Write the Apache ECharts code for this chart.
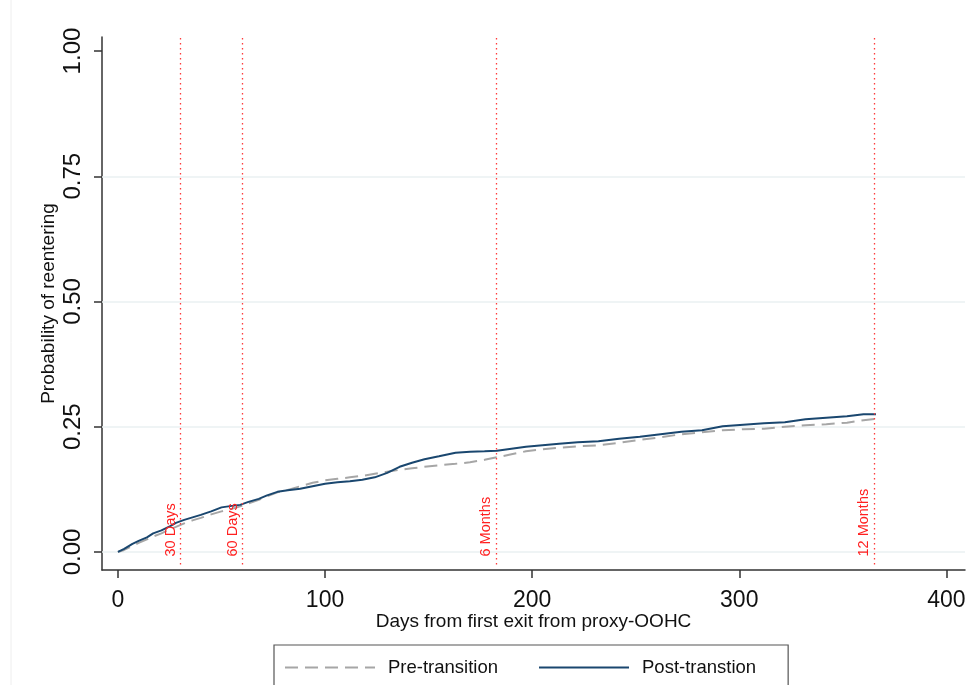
<!DOCTYPE html>
<html>
<head>
<meta charset="utf-8">
<script src="https://cdn.jsdelivr.net/npm/echarts@6/dist/echarts.min.js"></script>
<style>
    html, body { margin: 0; padding: 0; background: #fff; }
    #chart { width: 970px; height: 685px; }
</style>
</head>
<body>
<div id="chart"></div>
<script>
    // days from first exit
    var days = [0, 3, 7, 10, 14, 17, 21, 25, 28, 32, 36, 40, 45, 50, 55, 59, 63, 68, 72, 77, 82, 88, 94, 100,
        106, 112, 118, 124, 130, 136, 142, 148, 155, 163, 170, 177, 183, 190, 197, 205, 213, 222, 232, 242,
        252, 262, 272, 282, 292, 302, 312, 322, 332, 342, 352, 360, 366];
    var preTransition = [0, 0.004, 0.012, 0.018, 0.025, 0.031, 0.037, 0.045, 0.050, 0.057, 0.063, 0.068, 0.075,
        0.081, 0.086, 0.091, 0.097, 0.104, 0.111, 0.119, 0.124, 0.131, 0.138, 0.143, 0.146, 0.149, 0.152, 0.156,
        0.160, 0.164, 0.167, 0.170, 0.173, 0.176, 0.179, 0.184, 0.189, 0.195, 0.201, 0.205, 0.208, 0.211, 0.213,
        0.218, 0.224, 0.229, 0.235, 0.239, 0.243, 0.245, 0.246, 0.250, 0.253, 0.255, 0.258, 0.263, 0.266];
    var postTransition = [0, 0.006, 0.016, 0.022, 0.029, 0.037, 0.043, 0.051, 0.058, 0.064, 0.069, 0.074, 0.081,
        0.089, 0.092, 0.094, 0.100, 0.106, 0.113, 0.120, 0.123, 0.126, 0.131, 0.136, 0.139, 0.141, 0.144, 0.149,
        0.158, 0.170, 0.178, 0.185, 0.191, 0.198, 0.200, 0.201, 0.202, 0.206, 0.210, 0.213, 0.216, 0.219, 0.221,
        0.226, 0.230, 0.235, 0.240, 0.243, 0.251, 0.254, 0.257, 0.259, 0.265, 0.268, 0.271, 0.275, 0.275];
    var xTicks = [0, 100, 200, 300, 400];
    var yTicks = [0, 0.25, 0.5, 0.75, 1];
    var gridValues = [0, 0.25, 0.5, 0.75];
    var refDays = [30, 60, 182.5, 365];
    var refLabels = ['30 Days', '60 Days', '6 Months', '12 Months'];

    var font = '"Liberation Sans", Arial, sans-serif';
    var chart = echarts.init(document.getElementById('chart'));

    function pairs(ys) {
        return days.map(function (d, i) { return [d, ys[i]]; });
    }

    var refLines = refDays.map(function (d, i) {
        return [
            { coord: [d, -0.025], label: { formatter: refLabels[i] } },
            { coord: [d, 1.026] }
        ];
    });
    var gridLines = gridValues.map(function (v) { return { yAxis: v }; });

    chart.setOption({
        animation: false,
        textStyle: { fontFamily: font },
        grid: { left: 102, right: 5, top: 37, bottom: 115 },
        graphic: [{
            type: 'line', shape: { x1: 11, y1: 0, x2: 11, y2: 685 },
            style: { stroke: '#eeeeee', lineWidth: 1 }
        }],
        legend: {
            left: 274, top: 645,
            padding: [13, 32, 30, 10],
            itemGap: 40,
            itemWidth: 90, itemHeight: 14,
            itemStyle: { opacity: 0 },
            borderColor: '#555', borderWidth: 1.2, borderRadius: 0,
            textStyle: { fontSize: 18.5, color: '#111', padding: [0, 0, 0, 8] },
            data: ['Pre-transition', 'Post-transtion']
        },
        xAxis: {
            type: 'value', min: -7.7, max: 409,
            name: 'Days from first exit from proxy-OOHC',
            nameLocation: 'middle', nameGap: 42, nameMoveOverlap: false,
            nameTextStyle: { fontSize: 19, color: '#111' },
            axisLine: { onZero: false, lineStyle: { color: '#333', width: 1.5 } },
            axisTick: { length: 8, customValues: xTicks, lineStyle: { color: '#333', width: 1.5 } },
            axisLabel: { customValues: xTicks, fontSize: 23, color: '#111', margin: 19 },
            splitLine: { show: false }
        },
        yAxis: {
            type: 'value', min: -0.036, max: 1.028,
            name: 'Probability of reentering',
            nameLocation: 'middle', nameGap: 44, nameMoveOverlap: false,
            nameTextStyle: { fontSize: 19, color: '#111' },
            axisLine: { show: true, onZero: false, lineStyle: { color: '#333', width: 1.5 } },
            axisTick: { show: true, length: 8, customValues: yTicks, lineStyle: { color: '#333', width: 1.5 } },
            axisLabel: {
                customValues: yTicks, fontSize: 24, color: '#111', rotate: 90, margin: 17,
                formatter: function (v) { return v.toFixed(2); }
            },
            splitLine: { show: false }
        },
        series: [
            {
                name: 'Pre-transition', type: 'line', data: pairs(preTransition),
                showSymbol: false, symbol: 'none', z: 3,
                lineStyle: { color: '#a6a6a6', width: 2, type: [13, 7] },
                itemStyle: { color: '#a6a6a6' },
                markLine: {
                    silent: true, symbol: 'none', animation: false,
                    lineStyle: { color: '#eaf1f2', width: 1.5, type: 'solid' },
                    label: { show: false },
                    data: gridLines,
                    z: 1
                }
            },
            {
                name: 'Post-transtion', type: 'line', data: pairs(postTransition),
                showSymbol: false, symbol: 'none', z: 4,
                lineStyle: { color: '#1a476f', width: 2 },
                itemStyle: { color: '#1a476f' },
                markLine: {
                    silent: true, symbol: 'none', animation: false,
                    lineStyle: { color: '#ff3b3b', width: 1.3, type: [1.5, 3.5] },
                    label: {
                        show: true, position: 'insideStartTop', color: '#ff2020',
                        fontSize: 14.5, distance: [8, 2]
                    },
                    data: refLines
                }
            }
        ]
    });
</script>
</body>
</html>
